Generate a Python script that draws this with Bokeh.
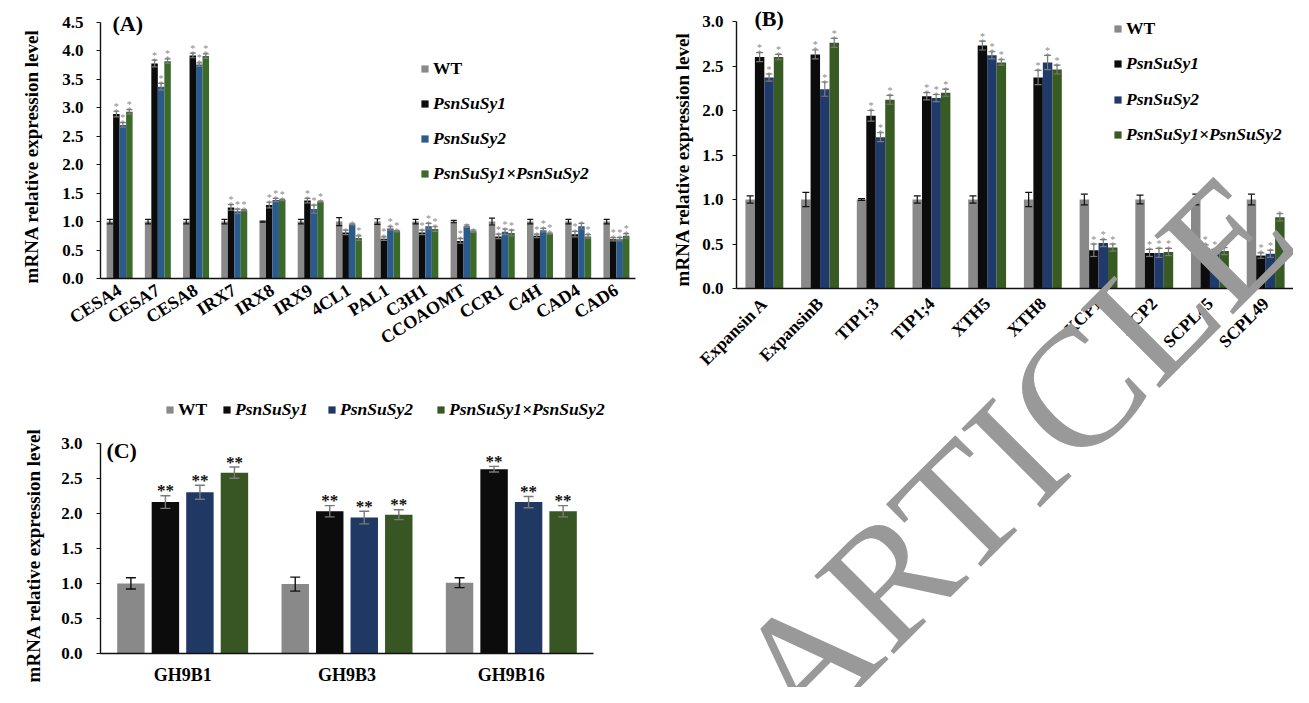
import math
from bokeh.plotting import figure
from bokeh.models import (Range1d, ColumnDataSource, Whisker, TeeHead, Title,
                          Label, Legend, LegendItem, FixedTicker, PrintfTickFormatter)
from bokeh.layouts import row, column
from bokeh.embed import file_html
from bokeh.resources import INLINE
from bokeh.core.properties import value

FONT = "Liberation Serif"
SERIES = ["WT", "PsnSuSy1", "PsnSuSy2", "PsnSuSy1×PsnSuSy2"]

# ---------------- Panel A data ----------------
A_genes = ["CESA4", "CESA7", "CESA8", "IRX7", "IRX8", "IRX9", "4CL1", "PAL1", "C3H1",
           "CCOAOMT", "CCR1", "C4H", "CAD4", "CAD6"]
A_wt = [1.00, 1.00, 1.00, 1.00, 1.00, 1.00, 1.00, 1.00, 1.00, 1.00, 1.00, 1.00, 1.00, 1.00]
A_wt_err = [0.04, 0.04, 0.04, 0.04, 0.01, 0.04, 0.07, 0.05, 0.04, 0.02, 0.06, 0.04, 0.04, 0.04]
A_s1 = [2.89, 3.78, 3.92, 1.25, 1.29, 1.37, 0.81, 0.70, 0.81, 0.66, 0.74, 0.75, 0.78, 0.69]
A_s1_err = [0.05, 0.06, 0.04, 0.05, 0.05, 0.04, 0.04, 0.03, 0.04, 0.04, 0.04, 0.03, 0.05, 0.03]
A_s2 = [2.70, 3.37, 3.76, 1.18, 1.38, 1.22, 0.95, 0.88, 0.92, 0.92, 0.82, 0.85, 0.92, 0.69]
A_s2_err = [0.04, 0.06, 0.03, 0.04, 0.03, 0.07, 0.01, 0.03, 0.05, 0.02, 0.05, 0.03, 0.05, 0.03]
A_s12 = [2.93, 3.82, 3.91, 1.20, 1.38, 1.35, 0.71, 0.83, 0.87, 0.83, 0.80, 0.79, 0.74, 0.75]
A_s12_err = [0.04, 0.04, 0.04, 0.01, 0.01, 0.01, 0.04, 0.01, 0.04, 0.02, 0.05, 0.01, 0.03, 0.04]
A_sig_s1 = [2, 2, 2, 2, 2, 2, 1, 2, 2, 2, 2, 2, 2, 2]
A_sig_s2 = [2, 2, 2, 2, 2, 2, 1, 2, 2, 1, 2, 2, 1, 2]
A_sig_s12 = [2, 2, 2, 2, 2, 2, 2, 2, 2, 1, 2, 2, 2, 2]
A_yticks = [0.0, 0.5, 1.0, 1.5, 2.0, 2.5, 3.0, 3.5, 4.0, 4.5]

# ---------------- Panel B data ----------------
B_genes = ["Expansin A", "ExpansinB", "TIP1;3", "TIP1;4", "XTH5", "XTH8", "XCP1", "XCP2",
           "SCPL45", "SCPL49"]
B_wt = [1.00, 1.00, 1.00, 1.00, 1.00, 1.00, 1.00, 1.00, 1.00, 1.00]
B_wt_err = [0.04, 0.08, 0.01, 0.04, 0.04, 0.08, 0.06, 0.05, 0.06, 0.06]
B_s1 = [2.60, 2.63, 1.94, 2.16, 2.73, 2.37, 0.43, 0.40, 0.45, 0.37]
B_s1_err = [0.05, 0.05, 0.06, 0.04, 0.05, 0.08, 0.07, 0.04, 0.04, 0.03]
B_s2 = [2.37, 2.24, 1.70, 2.14, 2.62, 2.54, 0.51, 0.40, 0.40, 0.39]
B_s2_err = [0.04, 0.08, 0.05, 0.04, 0.04, 0.08, 0.04, 0.05, 0.04, 0.04]
B_s12 = [2.60, 2.76, 2.12, 2.20, 2.54, 2.46, 0.46, 0.41, 0.42, 0.80]
B_s12_err = [0.03, 0.05, 0.05, 0.04, 0.03, 0.05, 0.04, 0.04, 0.04, 0.04]
B_sig_s1 = [2, 2, 2, 2, 2, 2, 2, 2, 2, 2]
B_sig_s2 = [2, 2, 2, 2, 2, 2, 2, 2, 2, 2]
B_sig_s12 = [2, 2, 2, 2, 2, 2, 2, 2, 2, 1]
B_yticks = [0.0, 0.5, 1.0, 1.5, 2.0, 2.5, 3.0]

# ---------------- Panel C data ----------------
C_genes = ["GH9B1", "GH9B3", "GH9B16"]
C_wt = [1.00, 0.99, 1.01]
C_wt_err = [0.08, 0.10, 0.07]
C_s1 = [2.16, 2.03, 2.63]
C_s1_err = [0.09, 0.08, 0.04]
C_s2 = [2.30, 1.94, 2.16]
C_s2_err = [0.10, 0.09, 0.08]
C_s12 = [2.58, 1.98, 2.03]
C_s12_err = [0.08, 0.07, 0.08]
C_sig_s1 = [2, 2, 2]
C_sig_s2 = [2, 2, 2]
C_sig_s12 = [2, 2, 2]
C_yticks = [0.0, 0.5, 1.0, 1.5, 2.0, 2.5, 3.0]

WATERMARK = "ARTICLE"
YLABEL = "mRNA relative  expression level"

LEG_DX, LEG_DY = 7, -9   # empirical correction of legend placement


class Geo:
    """Page geometry of one panel: frame box, where the categories run, y scale."""

    def __init__(self, cfg, n):
        self.FL, self.FT, self.FR, self.FB = cfg["frame"]
        self.X0, self.Xn = cfg["xspan"]
        self.ppx = (self.Xn - self.X0) / n
        self.xl = (self.FL - self.X0) / self.ppx
        self.xr = n + (self.FR - self.Xn) / self.ppx
        ymax = cfg["yticks"][-1]
        self.ppu = (cfg["y0_page"] - cfg["ymax_page"]) / ymax
        self.y1 = ymax + (cfg["ymax_page"] - self.FT) / self.ppu
        self.y0 = -(self.FB - cfg["y0_page"]) / self.ppu

    def data_xy(self, px, py):
        return (px - self.X0) / self.ppx, self.y1 - (py - self.FT) / self.ppu


def make_panel(genes, vals, errs, sigs, colors, err_colors, cfg):
    n = len(genes)
    g = Geo(cfg, n)
    W, H = cfg["W"], cfg["H"]
    ox, oy = cfg["origin"]
    p = figure(width=W, height=H, x_range=Range1d(g.xl, g.xr), y_range=Range1d(g.y0, g.y1),
               output_backend="svg", toolbar_location=None,
               min_border_left=int(g.FL - ox), min_border_top=int(g.FT - oy),
               min_border_right=int(ox + W - g.FR), min_border_bottom=int(oy + H - g.FB))
    p.outline_line_color = None
    p.xgrid.visible = False
    p.ygrid.visible = False

    centers = [i + 0.5 for i in range(n)]
    data = {"xc": centers}
    for i in range(4):
        data["x%d" % i] = [c + cfg["offsets"][i] for c in centers]
        data["v%d" % i] = vals[i]
        data["up%d" % i] = [v + e for v, e in zip(vals[i], errs[i])]
        data["lo%d" % i] = [v - e for v, e in zip(vals[i], errs[i])]
    src = ColumnDataSource(data)

    rends = []
    for i in range(4):
        r = p.vbar(x="x%d" % i, top="v%d" % i, width=cfg["bar_w"], source=src,
                   fill_color=colors[i], line_color=None)
        rends.append(r)

    for i in range(4):
        w = Whisker(source=src, base="x%d" % i, upper="up%d" % i, lower="lo%d" % i,
                    line_color=err_colors[i], line_width=cfg["err_w"], level="annotation",
                    upper_head=TeeHead(size=cfg["cap"], line_color=err_colors[i], line_width=cfg["err_w"]),
                    lower_head=TeeHead(size=cfg["cap"], line_color=err_colors[i], line_width=cfg["err_w"]))
        p.add_layout(w)

    # significance asterisks
    for i in range(1, 4):
        xs, ys, offs, txt = [], [], [], []
        for xx, v, e, s in zip(data["x%d" % i], vals[i], errs[i], sigs[i - 1]):
            if cfg["stack"]:
                for k in range(s):
                    xs.append(xx); ys.append(v + e); offs.append(cfg["star_off"] - k * cfg["star_gap"]); txt.append("*")
            else:
                xs.append(xx); ys.append(v + e); offs.append(cfg["star_off"]); txt.append("*" * s)
        ssrc = ColumnDataSource(dict(x=xs, y=ys, yoff=offs, t=txt))
        p.text(x="x", y="y", text="t", y_offset="yoff", source=ssrc, text_align="center",
               text_baseline="alphabetic", text_font=value(FONT), text_font_size=cfg["star_size"],
               text_color=cfg["star_color"], text_font_style="bold" if not cfg["stack"] else "normal")

    # x axis: categories at the centres of the slots
    xa = p.xaxis[0]
    if cfg.get("fixed_axes"):
        xa.fixed_location = 0
    xa.bounds = (0, n)
    xa.ticker = FixedTicker(ticks=centers)
    xa.major_label_overrides = {c: name for c, name in zip(centers, genes)}
    xa.major_tick_line_color = None
    xa.minor_tick_line_color = None
    xa.axis_line_color = "#111111"
    xa.axis_line_width = 1.6
    xa.major_label_text_font = FONT
    xa.major_label_text_font_size = cfg["xlab_size"]
    xa.major_label_text_font_style = "bold"
    xa.major_label_text_color = "#000000"
    xa.major_label_standoff = cfg["xlab_standoff"]
    if cfg["xlab_angle"]:
        xa.major_label_orientation = cfg["xlab_angle"]

    ya = p.yaxis[0]
    if cfg.get("fixed_axes"):
        ya.fixed_location = 0
    ya.bounds = (0, cfg["yticks"][-1])
    ya.ticker = FixedTicker(ticks=cfg["yticks"])
    ya.formatter = PrintfTickFormatter(format="%.1f")
    ya.major_tick_out = 4
    ya.major_tick_in = 0
    ya.major_tick_line_color = "#111111"
    ya.minor_tick_line_color = None
    ya.axis_line_color = "#111111"
    ya.axis_line_width = 1.4
    ya.major_label_text_font = FONT
    ya.major_label_text_font_size = cfg["tick_size"]
    ya.major_label_text_font_style = "bold"
    ya.major_label_text_color = "#000000"
    ya.major_label_standoff = cfg["tick_standoff"]

    # y axis title, placed along the 0..max part of the axis
    p.add_layout(Title(text=YLABEL, align="right", offset=cfg["ylab_offset"], standoff=cfg["ylab_standoff"],
                       vertical_align="bottom", text_font=FONT, text_font_size=cfg["ylab_size"],
                       text_font_style="bold", text_color="#000000"), "left")

    # panel letter
    lx, ly = g.data_xy(*cfg["letter_pos"])
    p.add_layout(Label(x=lx, y=ly, text=cfg["letter"], text_font=FONT,
                       text_font_size=cfg["letter_size"], text_font_style="bold",
                       text_baseline="middle", text_align="left", text_color="#000000"))

    # legends (one per item so that WT is upright and the lines are italic)
    for i, (gx, cy) in enumerate(cfg["legend_pos"]):
        loc = (gx - g.FL + LEG_DX, g.FB - (cy + 10.5) + LEG_DY)
        leg = Legend(items=[LegendItem(label=SERIES[i], renderers=[rends[i]])],
                     location=loc, glyph_width=9, glyph_height=9, label_standoff=4,
                     padding=0, margin=0, spacing=0, border_line_color=None,
                     background_fill_alpha=0, label_height=21,
                     label_text_font=FONT, label_text_font_size=cfg["legend_size"],
                     label_text_font_style="bold" if i == 0 else "bold italic",
                     label_text_color="#000000")
        p.add_layout(leg)
    return p, g


ERRC = ["#111111", "#7a7a7a", "#7a7a7a", "#7a7a7a"]

# Panel A: figure at page (8,8), 648 x 387
cfgA = dict(W=648, H=387, origin=(8, 8), frame=(107, 8, 656, 286), xspan=(107, 643),
            y0_page=286, ymax_page=30, yticks=A_yticks,
            bar_w=0.17, offsets=[-0.255, -0.085, 0.085, 0.255], err_w=1.2, cap=6,
            stack=True, star_off=1, star_gap=6, star_size="10px", star_color="#8a8a8a",
            xlab_size="18px", xlab_standoff=4, xlab_angle=0.56, tick_size="17px", tick_standoff=13,
            ylab_size="19px", ylab_offset=24, ylab_standoff=36,
            letter="(A)", letter_pos=(119, 31), letter_size="22px", legend_size="17.5px",
            legend_pos=[(420, 67), (420, 102), (420, 137), (420, 172)])
pA, gA = make_panel(A_genes, [A_wt, A_s1, A_s2, A_s12], [A_wt_err, A_s1_err, A_s2_err, A_s12_err],
                    [A_sig_s1, A_sig_s2, A_sig_s12],
                    ["#898989", "#0c0c0c", "#2a5b8c", "#3c6a2b"], ERRC, cfgA)

# Panel B: one figure for the whole right column, page (656,8), 645 x 687
cfgB = dict(W=645, H=687, origin=(656, 8), frame=(704, 8, 1301, 695), xspan=(744, 1301),
            y0_page=296, ymax_page=29, yticks=B_yticks, fixed_axes=True,
            bar_w=0.17, offsets=[-0.255, -0.085, 0.085, 0.255], err_w=1.2, cap=7,
            stack=True, star_off=1, star_gap=6, star_size="10px", star_color="#8a8a8a",
            xlab_size="17.5px", xlab_standoff=6, xlab_angle=math.pi / 4, tick_size="17px", tick_standoff=9,
            ylab_size="19px", ylab_offset=27, ylab_standoff=8,
            letter="(B)", letter_pos=(762, 26), letter_size="22px", legend_size="17.5px",
            legend_pos=[(1114, 27), (1114, 62), (1114, 98), (1114, 133)])
pB, gB = make_panel(B_genes, [B_wt, B_s1, B_s2, B_s12], [B_wt_err, B_s1_err, B_s2_err, B_s12_err],
                    [B_sig_s1, B_sig_s2, B_sig_s12],
                    ["#898989", "#0c0c0c", "#203a6b", "#385a23"], ERRC, cfgB)

# Panel C: figure at page (8,395), 648 x 300
cfgC = dict(W=648, H=300, origin=(8, 395), frame=(98, 395, 656, 667), xspan=(98, 600),
            y0_page=667, ymax_page=452, yticks=C_yticks,
            bar_w=0.167, offsets=[-0.315, -0.105, 0.105, 0.315], err_w=1.4, cap=10,
            stack=False, star_off=-5, star_gap=0, star_size="17px", star_color="#111111",
            xlab_size="18px", xlab_standoff=5, xlab_angle=0, tick_size="17px", tick_standoff=14,
            ylab_size="19px", ylab_offset=36, ylab_standoff=30,
            letter="(C)", letter_pos=(104, 459), letter_size="22px", legend_size="17.5px",
            legend_pos=[(156, 414), (213, 414), (318, 414), (427, 414)])
pC, gC = make_panel(C_genes, [C_wt, C_s1, C_s2, C_s12], [C_wt_err, C_s1_err, C_s2_err, C_s12_err],
                    [C_sig_s1, C_sig_s2, C_sig_s12],
                    ["#898989", "#0c0c0c", "#1f3864", "#375623"], ERRC, cfgC)

# Watermark across the lower right of the page (centre at page (1020, 462))
wx, wy = gB.data_xy(1020, 462)
pB.add_layout(Label(x=wx, y=wy, text=WATERMARK, angle=math.pi / 4, text_align="center",
                    text_baseline="middle", text_font=FONT, text_font_size="170px",
                    text_color="#999999", level="overlay"))

layout = row(column(pA, pC), pB)
open("out.html", "w").write(file_html(layout, INLINE))
